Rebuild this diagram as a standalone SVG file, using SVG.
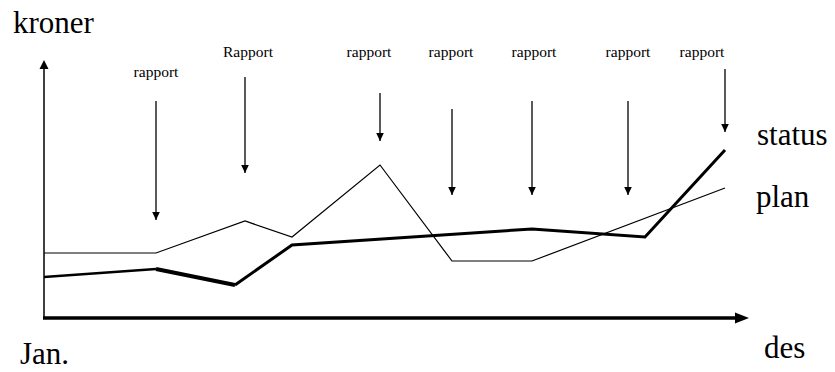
<svg xmlns="http://www.w3.org/2000/svg" width="835" height="372" viewBox="0 0 835 372">
<style>
.big{font-family:"Liberation Serif","Times New Roman",serif;font-size:31px;fill:#000}
.sm{font-family:"Liberation Serif","Times New Roman",serif;font-size:15.5px;fill:#000;text-anchor:middle}
.rep{stroke:#000;stroke-width:1.3;fill:none;marker-end:url(#ah)}
</style>
<defs>
<marker id="ah" markerUnits="userSpaceOnUse" markerWidth="10" markerHeight="10" viewBox="0 0 10 10" refX="9" refY="5" orient="auto">
<path d="M1,1.2 L9,5 L1,8.8 Z" fill="#000"/>
</marker>
</defs>
<rect width="835" height="372" fill="#fff"/>
<g id="axes">
<line x1="44" y1="319" x2="44" y2="68" stroke="#000" stroke-width="1.5"/>
<path d="M39.5,69 L44,60 L48.5,69 Z" fill="#000"/>
<line x1="43" y1="318" x2="736" y2="318" stroke="#000" stroke-width="3.5"/>
<path d="M735,312.5 L749,318 L735,323.5 Z" fill="#000"/>
</g>
<g id="plan">
<polyline points="44,253 156,253 245,221 292,237 380,165 452,261 532,261 725,188" fill="none" stroke="#000" stroke-width="1.2" stroke-linejoin="miter"/>
</g>
<g id="status">
<polyline points="44,277 156,269" fill="none" stroke="#000" stroke-width="2.5"/>
<polyline points="156,269 235,285" fill="none" stroke="#000" stroke-width="4"/>
<polyline points="235,285 292,245 532,229 645,237 725,150" fill="none" stroke="#000" stroke-width="3" stroke-linejoin="miter"/>
</g>
<g id="connectors">
<line class="rep" x1="156" y1="101" x2="156" y2="220"/>
<line class="rep" x1="245" y1="77" x2="245" y2="173"/>
<line class="rep" x1="380" y1="93" x2="380" y2="141"/>
<line class="rep" x1="452" y1="109" x2="452" y2="195"/>
<line class="rep" x1="532" y1="101" x2="532" y2="195"/>
<line class="rep" x1="628" y1="101" x2="628" y2="195"/>
<line class="rep" x1="725" y1="69" x2="725" y2="132"/>
</g>
<g id="labels">
<text class="big" x="13" y="33">kroner</text>
<text class="big" x="757" y="145">status</text>
<text class="big" x="756" y="207">plan</text>
<text class="big" x="764" y="358">des</text>
<text class="big" x="20" y="364">Jan.</text>
<text class="sm" x="156" y="77">rapport</text>
<text class="sm" x="248" y="57">Rapport</text>
<text class="sm" x="369" y="57">rapport</text>
<text class="sm" x="451" y="57">rapport</text>
<text class="sm" x="534" y="57">rapport</text>
<text class="sm" x="628" y="57">rapport</text>
<text class="sm" x="702" y="57">rapport</text>
</g>
</svg>
